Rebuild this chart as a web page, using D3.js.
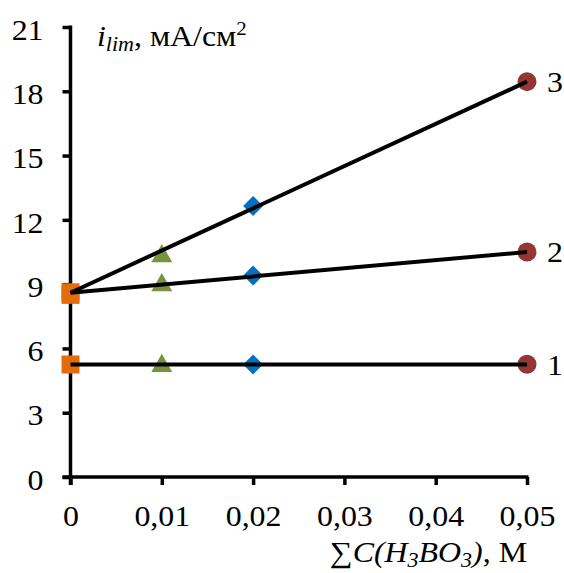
<!DOCTYPE html>
<html>
<head>
<meta charset="utf-8">
<script src="https://cdn.jsdelivr.net/npm/d3@7"></script>
<style>
  html, body { margin: 0; padding: 0; background: #fff; }
  svg { display: block; }
  svg text { font-family: "Liberation Serif", "Times New Roman", serif; }
</style>
</head>
<body>
<svg id="chart" width="564" height="573"></svg>
<script>
// Boric acid concentration (M) vs limiting current density (mA/cm²)
const xTicks = [0, 0.01, 0.02, 0.03, 0.04, 0.05];
const yTicks = [0, 3, 6, 9, 12, 15, 18, 21];

// measured points, grouped by marker type
const squareX = 0;
const squareY = [5.25, 8.5, 8.62];
const triangleX = 0.01;
const triangleY = [5.23, 9.0, 10.35];
const diamondX = 0.02;
const diamondY = [5.25, 9.4, 12.65];
const circleX = 0.05;
const circleY = [5.26, 10.5, 18.45];

// fitted lines (start and end values at x = 0 and x = 0.05)
const lineNames = ["1", "2", "3"];
const lineStart = [5.25, 8.6, 8.6];
const lineEnd = [5.25, 10.5, 18.45];

const svg = d3.select("#chart");
const x = d3.scaleLinear().domain([0, 0.05]).range([70.5, 527]);
const y = d3.scaleLinear().domain([0, 21]).range([477, 27]);

// text is set slightly wide, as in the original figure
const WIDE = 1.1;

const fmtX = d => d === 0 ? "0" : d3.format(".2f")(d).replace(".", ",");

// axes
const xAxis = svg.append("g").attr("transform", `translate(0,${y(0)})`)
  .call(d3.axisBottom(x).tickValues(xTicks).tickFormat(fmtX).tickSizeInner(8).tickSizeOuter(0).tickPadding(20));
const yAxis = svg.append("g").attr("transform", `translate(${x(0)},0)`)
  .call(d3.axisLeft(y).tickValues(yTicks).tickSizeInner(8).tickSizeOuter(0).tickPadding(16.5));
[xAxis, yAxis].forEach(g => {
  g.attr("font-family", null).attr("font-size", null);
  g.select(".domain").attr("stroke", "#000").attr("stroke-width", 3.5);
  g.selectAll(".tick line").attr("stroke", "#000").attr("stroke-width", 3.5);
  g.selectAll(".tick text").attr("fill", "#000").attr("font-size", 29)
    .attr("transform", `scale(${WIDE},1)`);
});
yAxis.selectAll(".tick text").attr("dy", "0.42em");
xAxis.select(".domain").attr("d", `M${x(0) - 8},0H${x(0.05) + 1.5}`);
yAxis.select(".domain").attr("d", `M0,${y(0) + 8}V${y(21) - 1.5}`);

// markers
const marks = svg.append("g");
marks.selectAll("rect.sq").data(squareY).join("rect")
  .attr("x", x(squareX) - 9).attr("y", d => y(d) - 9)
  .attr("width", 18).attr("height", 18).attr("fill", "#E46C0A");
const tri = d3.symbol().type(d3.symbolTriangle).size(190);
marks.selectAll("path.tri").data(triangleY).join("path")
  .attr("d", tri).attr("transform", d => `translate(${x(triangleX)},${y(d) + 1})`)
  .attr("fill", "#77933C");
marks.selectAll("path.dia").data(diamondY).join("path")
  .attr("d", "M0,-10L10,0L0,10L-10,0Z")
  .attr("transform", d => `translate(${x(diamondX)},${y(d)})`)
  .attr("fill", "#0070C0");
marks.selectAll("circle").data(circleY).join("circle")
  .attr("cx", x(circleX)).attr("cy", d => y(d)).attr("r", 9.5)
  .attr("fill", "#943634");

// fitted lines and their numbers
const lines = svg.append("g");
lineNames.forEach((n, i) => {
  lines.append("line")
    .attr("x1", x(0)).attr("y1", y(lineStart[i]))
    .attr("x2", x(0.05)).attr("y2", y(lineEnd[i]))
    .attr("stroke", "#000").attr("stroke-width", 4);
  svg.append("text")
    .attr("transform", `translate(${x(0.05) + 20},${y(lineEnd[i]) + 10}) scale(${WIDE},1)`)
    .attr("font-size", 29).attr("fill", "#000").text(n);
});

// axis titles
const yt = svg.append("text").attr("transform", `translate(97,46) scale(${WIDE},1)`)
  .attr("font-size", 29).attr("fill", "#000");
yt.append("tspan").attr("font-style", "italic").text("i");
yt.append("tspan").attr("font-style", "italic").attr("font-size", 20).attr("dy", 5).text("lim");
yt.append("tspan").attr("dy", -5).text(", мА/см");
yt.append("tspan").attr("font-size", 19).attr("dy", -11).text("2");

const xt = svg.append("text").attr("transform", `translate(527,562) scale(${WIDE},1)`)
  .attr("font-size", 29).attr("text-anchor", "end").attr("fill", "#000");
xt.append("tspan").text("∑");
xt.append("tspan").attr("font-style", "italic").text("C(H");
xt.append("tspan").attr("font-style", "italic").attr("font-size", 20).attr("dy", 5).text("3");
xt.append("tspan").attr("font-style", "italic").attr("dy", -5).text("BO");
xt.append("tspan").attr("font-style", "italic").attr("font-size", 20).attr("dy", 5).text("3");
xt.append("tspan").attr("font-style", "italic").attr("dy", -5).text(")");
xt.append("tspan").text(", М");
</script>
</body>
</html>
